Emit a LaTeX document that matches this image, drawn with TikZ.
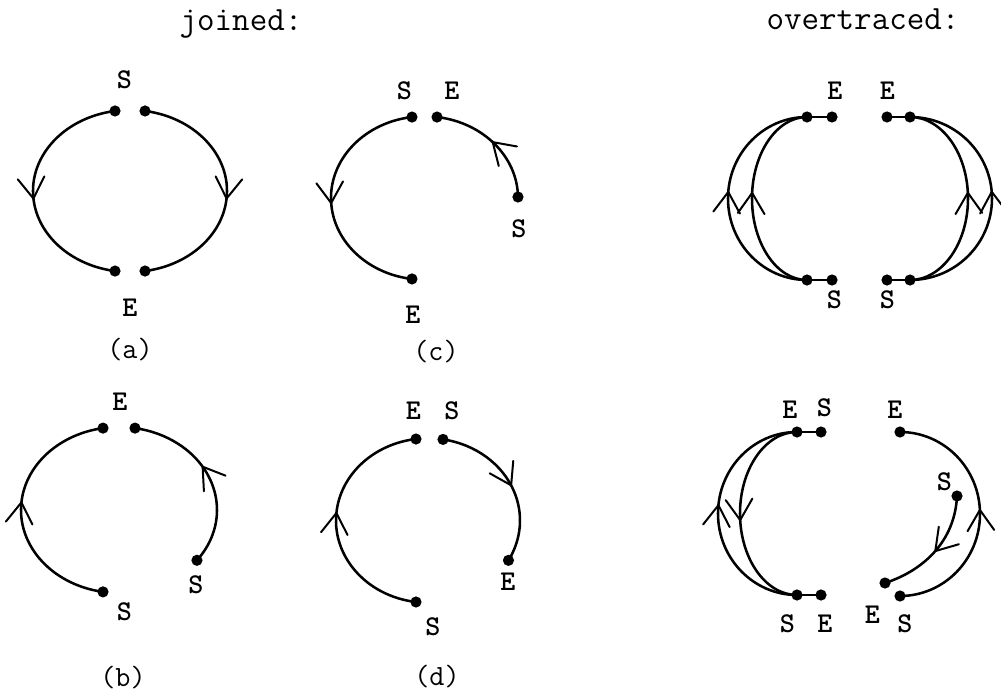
\documentclass[tikz,border=0pt]{standalone}
\usepackage{fontspec}
\usetikzlibrary{decorations.markings}
\tikzset{
  curve/.style={line width=1.9pt},
  lbl/.style={font=\ttfamily\bfseries\fontsize{21.5}{21.5}\selectfont, anchor=base, inner sep=0pt},
  sublbl/.style={font=\ttfamily\fontsize{22}{22}\selectfont, anchor=base, inner sep=0pt},
  ttl/.style={font=\ttfamily\fontsize{25.5}{25.5}\selectfont, anchor=base, inner sep=0pt},
  barb/.style={postaction={decorate}, decoration={markings, mark=at position #1 with {\draw[line width=1.5pt, line cap=round, line join=round] (-15.5pt,10pt) -- (0pt,0pt) -- (-15.5pt,-10pt);}}},
}
\newcommand\dotat[1]{\fill (#1) circle[radius=5.6];}
\begin{document}
\begin{tikzpicture}[x=0.75pt,y=0.75pt]
\useasboundingbox (0,0) rectangle (1001,-696);
% titles
\node[ttl] (tj) at (241,-31) {joined:};
\node[ttl] (to) at (863,-30) {overtraced:};
% ---------------- panel (a)
\coordinate (Ca) at (130,-191);
\coordinate (aS1) at ([shift={(Ca)}]98.9:97 and 81);
\coordinate (aE1) at ([shift={(Ca)}]261.1:97 and 81);
\coordinate (aS2) at ([shift={(Ca)}]81.1:97 and 81);
\coordinate (aE2) at ([shift={(Ca)}]-81.1:97 and 81);
\draw[curve,barb=0.53] (aS1) arc[start angle=98.9,end angle=261.1,x radius=97,y radius=81];
\draw[curve,barb=0.53] (aS2) arc[start angle=81.1,end angle=-81.1,x radius=97,y radius=81];
\dotat{aS1}\dotat{aE1}\dotat{aS2}\dotat{aE2}
\node[lbl] (laS) at (124.5,-88) {S};
\node[lbl] (laE) at (130,-316) {E};
\node[sublbl] (la) at (130,-358) {(a)};
% ---------------- panel (c)
\coordinate (Cc) at (424.5,-198);
\coordinate (cS1) at ([shift={(Cc)}]97.7:93.5 and 81.7);
\coordinate (cE1) at ([shift={(Cc)}]262.3:93.5 and 81.7);
\coordinate (cS2) at ([shift={(Cc)}]0.7:93.5 and 81.7);
\coordinate (cE2) at ([shift={(Cc)}]82.3:93.5 and 81.7);
\draw[curve,barb=0.52] (cS1) arc[start angle=97.7,end angle=262.3,x radius=93.5,y radius=81.7];
\draw[curve,barb=0.5] (cS2) arc[start angle=0.7,end angle=82.3,x radius=93.5,y radius=81.7];
\dotat{cS1}\dotat{cE1}\dotat{cS2}\dotat{cE2}
\node[lbl] (lcS1) at (404.5,-99) {S};
\node[lbl] (lcE2) at (452,-99) {E};
\node[lbl] (lcS2) at (519,-237) {S};
\node[lbl] (lcE1) at (413,-323) {E};
\node[sublbl] (lc) at (436,-360) {(c)};
% ---------------- panel (b)
\coordinate (Cb) at (119,-510);
\coordinate (bS1) at ([shift={(Cb)}]260.6:98 and 83);
\coordinate (bE1) at ([shift={(Cb)}]99.4:98 and 83);
\coordinate (bS2) at ([shift={(Cb)}]-37.3:98 and 83);
\coordinate (bE2) at ([shift={(Cb)}]80.6:98 and 83);
\draw[curve,barb=0.53] (bS1) arc[start angle=260.6,end angle=99.4,x radius=98,y radius=83];
\draw[curve,barb=0.56] (bS2) arc[start angle=-37.3,end angle=80.6,x radius=98,y radius=83];
\dotat{bS1}\dotat{bE1}\dotat{bS2}\dotat{bE2}
\node[lbl] (lbE) at (120,-410) {E};
\node[lbl] (lbS1) at (124.5,-620) {S};
\node[lbl] (lbS2) at (196,-593) {S};
\node[sublbl] (lb) at (123,-686) {(b)};
% ---------------- panel (d)
\coordinate (Cd) at (428,-520.5);
\coordinate (dS1) at ([shift={(Cd)}]262.5:92 and 82.2);
\coordinate (dE1) at ([shift={(Cd)}]97.5:92 and 82.2);
\coordinate (dS2) at ([shift={(Cd)}]80.6:92 and 82.2);
\coordinate (dE2) at ([shift={(Cd)}]-29:92 and 82.2);
\draw[curve,barb=0.53] (dS1) arc[start angle=262.5,end angle=97.5,x radius=92,y radius=82.2];
\draw[curve,barb=0.52] (dS2) arc[start angle=80.6,end angle=-29,x radius=92,y radius=82.2];
\dotat{dS1}\dotat{dE1}\dotat{dS2}\dotat{dE2}
\node[lbl] (ldE1) at (413.5,-419) {E};
\node[lbl] (ldS2) at (452,-419) {S};
\node[lbl] (ldS1) at (433,-635) {S};
\node[lbl] (ldE2) at (508,-590) {E};
\node[sublbl] (ld) at (437,-685) {(d)};
% ---------------- overtraced, top
\coordinate (pJt) at (807,-117);
\coordinate (pJb) at (807,-280);
\coordinate (pE) at (832,-117);
\coordinate (pS) at (832,-280);
\draw[curve] (pS) -- (pJb);
\draw[curve] (pJt) -- (pE);
\draw[curve,barb=0.526] (pJb) arc[start angle=270,end angle=90,x radius=79,y radius=81.5];
\draw[curve,barb=0.526] (pJb) arc[start angle=270,end angle=90,x radius=55,y radius=81.5];
\dotat{pJt}\dotat{pJb}\dotat{pE}\dotat{pS}
\coordinate (qJt) at (910,-117);
\coordinate (qJb) at (910,-280);
\coordinate (qE) at (887,-117);
\coordinate (qS) at (887,-280);
\draw[curve] (qS) -- (qJb);
\draw[curve] (qJt) -- (qE);
\draw[curve,barb=0.526] (qJb) arc[start angle=-90,end angle=90,x radius=82,y radius=81.5];
\draw[curve,barb=0.526] (qJb) arc[start angle=-90,end angle=90,x radius=58,y radius=81.5];
\dotat{qJt}\dotat{qJb}\dotat{qE}\dotat{qS}
\node[lbl] (lpE) at (835,-99) {E};
\node[lbl] (lqE) at (887.5,-99) {E};
\node[lbl] (lpS) at (834.5,-308) {S};
\node[lbl] (lqS) at (887.5,-308) {S};
% ---------------- overtraced, bottom
\coordinate (rJt) at (797,-432);
\coordinate (rJb) at (797,-595);
\coordinate (rSt) at (821,-432);
\coordinate (rEb) at (821,-595);
\draw[curve] (rSt) -- (rJt);
\draw[curve] (rJb) -- (rEb);
\draw[curve,barb=0.533] (rJb) arc[start angle=270,end angle=90,x radius=79,y radius=81.5];
\draw[curve,barb=0.53] (rJt) arc[start angle=90,end angle=270,x radius=57,y radius=81.5];
\dotat{rJt}\dotat{rJb}\dotat{rSt}\dotat{rEb}
\coordinate (sS) at (900,-596);
\coordinate (sE) at (900,-432);
\draw[curve,barb=0.516] (sS) arc[start angle=-90,end angle=90,x radius=80,y radius=82];
\coordinate (tS) at (957,-496);
\coordinate (tE) at (885,-583);
\draw[curve,barb=0.5] (tS) .. controls (955,-540) and (925,-570) .. (tE);
\dotat{sS}\dotat{sE}\dotat{tS}\dotat{tE}
\node[lbl] (lrE) at (790,-418) {E};
\node[lbl] (lrS) at (824.5,-416) {S};
\node[lbl] (lsE) at (895,-418) {E};
\node[lbl] (lrS2) at (787.5,-632) {S};
\node[lbl] (lrE2) at (825,-632) {E};
\node[lbl] (ltE) at (872.5,-623) {E};
\node[lbl] (lsS) at (905,-632) {S};
\node[lbl] (ltS) at (944.5,-490) {S};
\end{tikzpicture}
\end{document}
